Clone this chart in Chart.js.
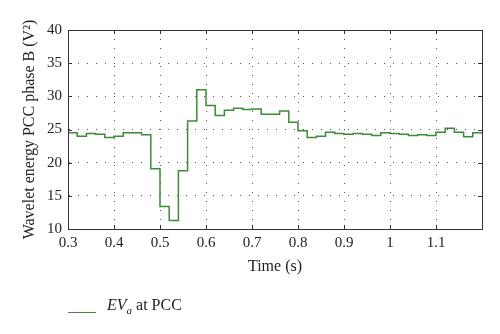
<!DOCTYPE html>
<html>
<head>
<meta charset="utf-8">
<script src="https://cdn.jsdelivr.net/npm/chart.js@4"></script>
<style>
  html, body { margin: 0; padding: 0; background: #fff; }
  #wrap { position: relative; width: 500px; height: 334px; }
  #legend { position: absolute; left: 68px; top: 296px; font-family: "Liberation Serif", serif; font-size: 16px; color: #222; white-space: nowrap; }
  #legend .swatch { display: inline-block; width: 28px; height: 0; border-top: 1.5px solid #3d8b37; vertical-align: middle; margin-right: 11px; position: relative; top: 6px; }
  #legend sub { font-size: 11px; }
</style>
</head>
<body>
<div id="wrap">
  <canvas id="chart" width="500" height="334"></canvas>
  <div id="legend"><span class="swatch"></span><i>EV<sub>a</sub></i> at PCC</div>
</div>
<script>
// tiempos (inicio de cada escalón, s)
const tiempos = [0.30, 0.32, 0.34, 0.36, 0.38, 0.40, 0.42, 0.44, 0.46, 0.48,
                 0.50, 0.52, 0.54, 0.56, 0.58, 0.60, 0.62, 0.64, 0.66, 0.68,
                 0.70, 0.72, 0.74, 0.76, 0.78, 0.80, 0.82, 0.84, 0.86, 0.88,
                 0.90, 0.92, 0.94, 0.96, 0.98, 1.00, 1.02, 1.04, 1.06, 1.08,
                 1.10, 1.12, 1.14, 1.16, 1.18, 1.20];

// energía wavelet EV_a en PCC (V^2)
const energia = [24.5, 24.0, 24.4, 24.3, 23.8, 24.0, 24.5, 24.5, 24.2, 19.1,
                 13.4, 11.3, 18.8, 26.3, 31.0, 28.6, 27.1, 27.9, 28.2, 28.0,
                 28.1, 27.3, 27.3, 27.8, 26.1, 24.8, 23.8, 24.0, 24.6, 24.4,
                 24.3, 24.4, 24.3, 24.1, 24.5, 24.4, 24.3, 24.1, 24.2, 24.1,
                 24.6, 25.2, 24.6, 23.9, 24.5];

const xTicks = [0.3, 0.4, 0.5, 0.6, 0.7, 0.8, 0.9, 1, 1.1];
const yTicks = [10, 15, 20, 25, 30, 35, 40];

// el último escalón se cierra en 1.2 con el mismo valor
const puntos = tiempos.map((t, i) => ({ x: t, y: energia[Math.min(i, energia.length - 1)] }));

const serif = "'Liberation Serif', 'DejaVu Serif', serif";

// marco + marcas de escala hacia adentro (estilo matlab)
const marcoPlugin = {
    id: 'marco',
    afterDraw(chart) {
        const { ctx, chartArea: a, scales } = chart;
        ctx.save();
        ctx.strokeStyle = '#333';
        ctx.lineWidth = 1;
        ctx.strokeRect(a.left + 0.5, a.top + 0.5, a.right - a.left, a.bottom - a.top);
        ctx.beginPath();
        xTicks.forEach(v => {
            const px = Math.round(scales.x.getPixelForValue(v)) + 0.5;
            ctx.moveTo(px, a.bottom); ctx.lineTo(px, a.bottom - 4);
            ctx.moveTo(px, a.top); ctx.lineTo(px, a.top + 4);
        });
        yTicks.forEach(v => {
            const py = Math.round(scales.y.getPixelForValue(v)) + 0.5;
            ctx.moveTo(a.left, py); ctx.lineTo(a.left + 4, py);
            ctx.moveTo(a.right, py); ctx.lineTo(a.right - 4, py);
        });
        ctx.stroke();
        ctx.restore();
    }
};

new Chart(document.getElementById('chart'), {
    type: 'line',
    data: {
        datasets: [{
            label: 'EVa at PCC',
            data: puntos,
            borderColor: '#3d8b37',
            borderWidth: 1.5,
            pointRadius: 0,
            stepped: 'before',
            fill: false
        }]
    },
    options: {
        responsive: false,
        animation: false,
        layout: { padding: { top: 30, right: 18, bottom: 54, left: 0 } },
        plugins: { legend: { display: false }, tooltip: { enabled: false } },
        scales: {
            x: {
                type: 'linear',
                min: 0.3,
                max: 1.2,
                afterFit: s => { s.height = 51; },
                afterBuildTicks: s => { s.ticks = xTicks.concat([1.2]).map(v => ({ value: v })); },
                ticks: {
                    color: '#222',
                    padding: 5,
                    maxRotation: 0,
                    font: { family: serif, size: 15 },
                    callback: v => (v > 1.15 ? '' : String(v))
                },
                grid: { color: '#555', drawTicks: false },
                border: { display: true, color: '#333', dash: [1, 8] },
                title: {
                    display: true,
                    text: 'Time (s)',
                    color: '#222',
                    font: { family: serif, size: 16 },
                    padding: { top: 0, bottom: 4 }
                }
            },
            y: {
                min: 10,
                max: 40,
                afterFit: s => { s.width = 68; },
                afterBuildTicks: s => { s.ticks = yTicks.map(v => ({ value: v })); },
                ticks: {
                    color: '#222',
                    padding: 6,
                    font: { family: serif, size: 15 }
                },
                grid: { color: '#555', drawTicks: false },
                border: { display: true, color: '#333', dash: [1, 8] },
                title: {
                    display: true,
                    text: 'Wavelet energy PCC phase B (V²)',
                    color: '#222',
                    font: { family: serif, size: 16 },
                    padding: { top: 20, bottom: 0 }
                }
            }
        }
    },
    plugins: [marcoPlugin]
});
</script>
</body>
</html>
